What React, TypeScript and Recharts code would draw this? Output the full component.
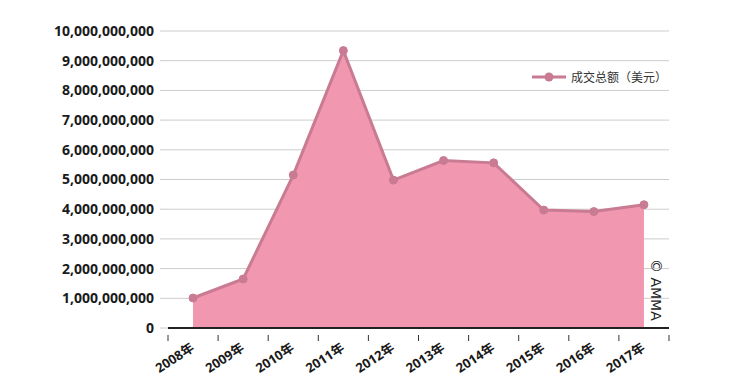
import React from 'react';
import { AreaChart, Area, XAxis, YAxis, CartesianGrid } from 'recharts';

const years = ['2008年', '2009年', '2010年', '2011年', '2012年', '2013年', '2014年', '2015年', '2016年', '2017年'];
const totals = [1010000000, 1650000000, 5150000000, 9340000000, 4980000000, 5640000000, 5560000000, 3970000000, 3920000000, 4150000000];
const yTicks = [0, 1000000000, 2000000000, 3000000000, 4000000000, 5000000000, 6000000000, 7000000000, 8000000000, 9000000000, 10000000000];
const seriesName = '成交总额（美元）';

const data = years.map((y, i) => ({ year: y, total: totals[i] }));

const LINE = '#c97b93';
const FILL = '#f197b0';

const fmt = (v: number) => v.toLocaleString('en-US');

const XTick = (props: any) => {
  const { x, y, payload, index } = props;
  const half = (payload && payload.offset) || 25.1;
  const last = index === years.length - 1;
  return (
    <g>
      <line x1={x - half} x2={x - half} y1={y - 1} y2={y + 5} stroke="#333" strokeWidth={1} />
      {last && <line x1={x + half} x2={x + half} y1={y - 1} y2={y + 5} stroke="#333" strokeWidth={1} />}
      <text
        x={x + 2}
        y={y + 14}
        textAnchor="end"
        transform={`rotate(-33 ${x + 2} ${y + 14})`}
        fontFamily="'Open Sans', 'Noto Sans CJK SC', sans-serif"
        fontSize={13}
        fontWeight="bold"
        fill="#1a1a1a"
      >
        {payload.value}
      </text>
    </g>
  );
};

export default function App() {
  return (
    <div style={{ position: 'absolute', left: 0, top: 0, width: 750, height: 389, background: '#fff' }}>
      <AreaChart width={750} height={389} data={data} margin={{ top: 31, right: 81, bottom: 0, left: 0 }}>
        <XAxis
          dataKey="year"
          scale="band"
          interval={0}
          height={61}
          tickLine={false}
          axisLine={{ stroke: '#222', strokeWidth: 2 }}
          tick={<XTick />}
        />
        <YAxis
          domain={[0, 10000000000]}
          ticks={yTicks}
          width={168}
          axisLine={false}
          tickLine={{ stroke: '#ccc' }}
          tickSize={8}
          tickMargin={6}
          tickFormatter={fmt}
          tick={{ fontFamily: "'Open Sans', sans-serif", fontSize: 14, fontWeight: 'bold', fill: '#1a1a1a' }}
        />
        <Area
          type="linear"
          dataKey="total"
          name={seriesName}
          stroke={LINE}
          strokeWidth={3}
          fill={FILL}
          fillOpacity={1}
          dot={{ r: 4, fill: LINE, stroke: LINE, strokeWidth: 1 }}
          activeDot={false}
          isAnimationActive={false}
        />
        <CartesianGrid vertical={false} stroke="rgba(0,0,0,0.2)" strokeWidth={1} />
      </AreaChart>
      <div
        style={{
          position: 'absolute',
          left: 532,
          top: 68,
          display: 'flex',
          alignItems: 'center',
          fontFamily: "'Noto Sans CJK SC', sans-serif",
          fontSize: 12,
          color: '#333',
        }}
      >
        <svg width={34} height={12} style={{ marginRight: 5 }}>
          <line x1={0} x2={34} y1={6} y2={6} stroke={LINE} strokeWidth={3} />
          <circle cx={17} cy={6} r={4.5} fill={LINE} />
        </svg>
        <span>{seriesName}</span>
      </div>
      <div
        style={{
          position: 'absolute',
          left: 664,
          top: 259,
          transform: 'rotate(90deg)',
          transformOrigin: '0 0',
          whiteSpace: 'nowrap',
          fontFamily: "'DejaVu Sans', sans-serif",
          fontSize: 14,
          color: '#222',
          lineHeight: '17px',
        }}
      >
        © AMMA
      </div>
    </div>
  );
}
